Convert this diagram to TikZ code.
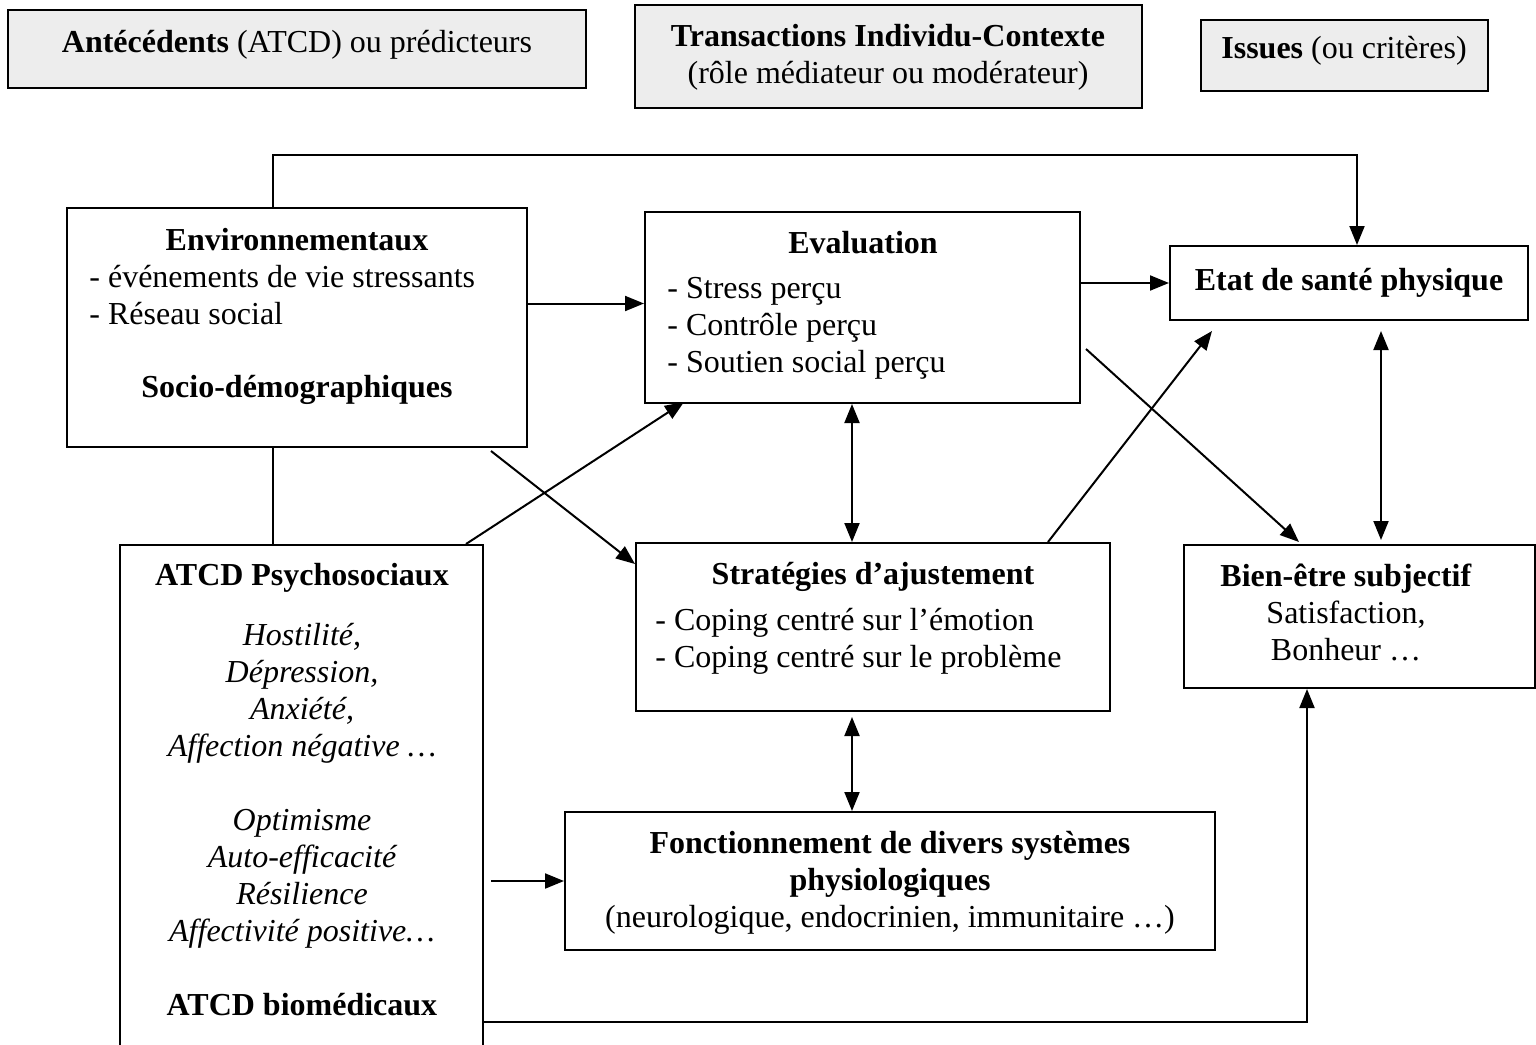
\documentclass[tikz,border=0pt]{standalone}
\usepackage{fontspec}
\setmainfont{Liberation Serif}
\usetikzlibrary{arrows.meta,calc}
\begin{document}
\begin{tikzpicture}[x=0.5pt,y=-0.5pt,
  every node/.style={font=\fontsize{16}{18.5}\selectfont, inner sep=0pt},
  box/.style={draw, line width=1pt},
  headbox/.style={draw, line width=1.2pt, fill=gray!14},
  txt/.style={align=center},
  ltxt/.style={align=left, anchor=west},
  link/.style={line width=1pt},
  arr/.style={link, -{Triangle[length=9.5pt,width=7.5pt]}},
  darr/.style={link, {Triangle[length=9.5pt,width=7.5pt]}-{Triangle[length=9.5pt,width=7.5pt]}}]

\clip (0,0) rectangle (1536,1044);
\fill[white] (0,0) rectangle (1536,1044);

% column headings
\node[headbox, minimum width=289pt, minimum height=39pt] (h1) at (297,49) {};
\node[txt] (h1t) at (297,45) {\textbf{Antécédents} (ATCD) ou prédicteurs};
\node[headbox, minimum width=253.5pt, minimum height=51.5pt] (h2) at (888.5,56.5) {};
\node[txt] (h2t) at (888,57) {\textbf{Transactions Individu-Contexte}\\(rôle médiateur ou modérateur)};
\node[headbox, minimum width=143.5pt, minimum height=35.5pt] (h3) at (1344.5,55.5) {};
\node[txt] (h3t) at (1344,51) {\textbf{Issues} (ou critères)};

% antecedents
\node[box, minimum width=230pt, minimum height=119.5pt] (env) at (297,327.5) {};
\node[txt] (envt) at (297,240) {\textbf{Environnementaux}};
\node[ltxt] (envl) at (89,295) {- événements de vie stressants\\- Réseau social};
\node[txt] (socio) at (297,390) {\textbf{Socio-démographiques}};

\node[box, minimum width=181.5pt, minimum height=257.5pt] (atcd) at (301.5,802.5) {};
\node[txt] (atcdt) at (302,578) {\textbf{ATCD Psychosociaux}};
\node[txt] (neg) at (302,693.5) {\itshape Hostilité,\\\itshape Dépression,\\\itshape Anxiété,\\\itshape Affection négative …};
\node[txt] (pos) at (302,878.5) {\itshape Optimisme\\\itshape Auto-efficacité\\\itshape Résilience\\\itshape Affectivité positive…};
\node[txt] (biomed) at (302,1005) {\textbf{ATCD biomédicaux}};

% transactions
\node[box, minimum width=217.5pt, minimum height=95.5pt] (eval) at (862.5,307.5) {};
\node[txt] (evalt) at (863,243) {\textbf{Evaluation}};
\node[ltxt] (evall) at (667,328.5) {- Stress perçu\\- Contrôle perçu\\- Soutien social perçu};

\node[box, minimum width=237pt, minimum height=84pt] (strat) at (873,627) {};
\node[txt] (stratt) at (873,577) {\textbf{Stratégies d’ajustement}};
\node[ltxt] (stratl) at (655,641.5) {- Coping centré sur l’émotion\\- Coping centré sur le problème};

\node[box, minimum width=325pt, minimum height=69pt] (fonct) at (890,881) {};
\node[txt] (foncttx) at (890,883) {\textbf{Fonctionnement de divers systèmes}\\\textbf{physiologiques}\\(neurologique, endocrinien, immunitaire …)};

% outcomes
\node[box, minimum width=179pt, minimum height=37pt] (etat) at (1349,283) {};
\node[txt] (etatt) at (1349,283) {\textbf{Etat de santé physique}};

\node[box, minimum width=175.5pt, minimum height=71.5pt] (bien) at (1359.5,616.5) {};
\node[txt] (bient) at (1346,612) {\textbf{Bien-être subjectif}\\Satisfaction,\\Bonheur …};

% routing points
\coordinate (loopL) at (273,155);
\coordinate (loopR) at (1357,155);
\coordinate (vx) at (852,0);
\coordinate (hx) at (1381,0);
\coordinate (bot) at (1308,1022);

% connectors
\draw[arr] (env.north -| loopL) |- (loopR) -- (loopR |- etat.north);
\draw[link] (env.south -| loopL) -- (atcd.north -| loopL);
\draw[arr] ($(env.east)+(0,-24)$) -- ($(eval.west)+(0,-4)$);
\draw[arr] (eval.east |- etat.west) -- (etat.west);
\draw[arr] ($(eval.south east)+(5,-55)$) -- ($(bien.north west)+(116,-2)$);
\draw[arr] ($(strat.north east)+(-63,0)$) -- ($(etat.south west)+(43,10)$);
\draw[arr] ($(env.south east)+(-37,3)$) -- ($(strat.north west)+(0,22)$);
\draw[arr] ($(atcd.north east)+(-18,0)$) -- ($(eval.south west)+(40,-2)$);
\draw[darr] (eval.south -| vx) -- (strat.north -| vx);
\draw[darr, shorten <=2.5pt] (strat.south -| vx) -- (fonct.north -| vx);
\draw[darr, shorten <=5pt, shorten >=2pt] (etat.south -| hx) -- (bien.north -| hx);
\draw[arr, shorten <=3.5pt] (atcd.east |- fonct.west) -- (fonct.west);
\draw[arr] (atcd.east |- bot) -| ($(bien.south west)+(124,0)$);
\end{tikzpicture}
\end{document}
